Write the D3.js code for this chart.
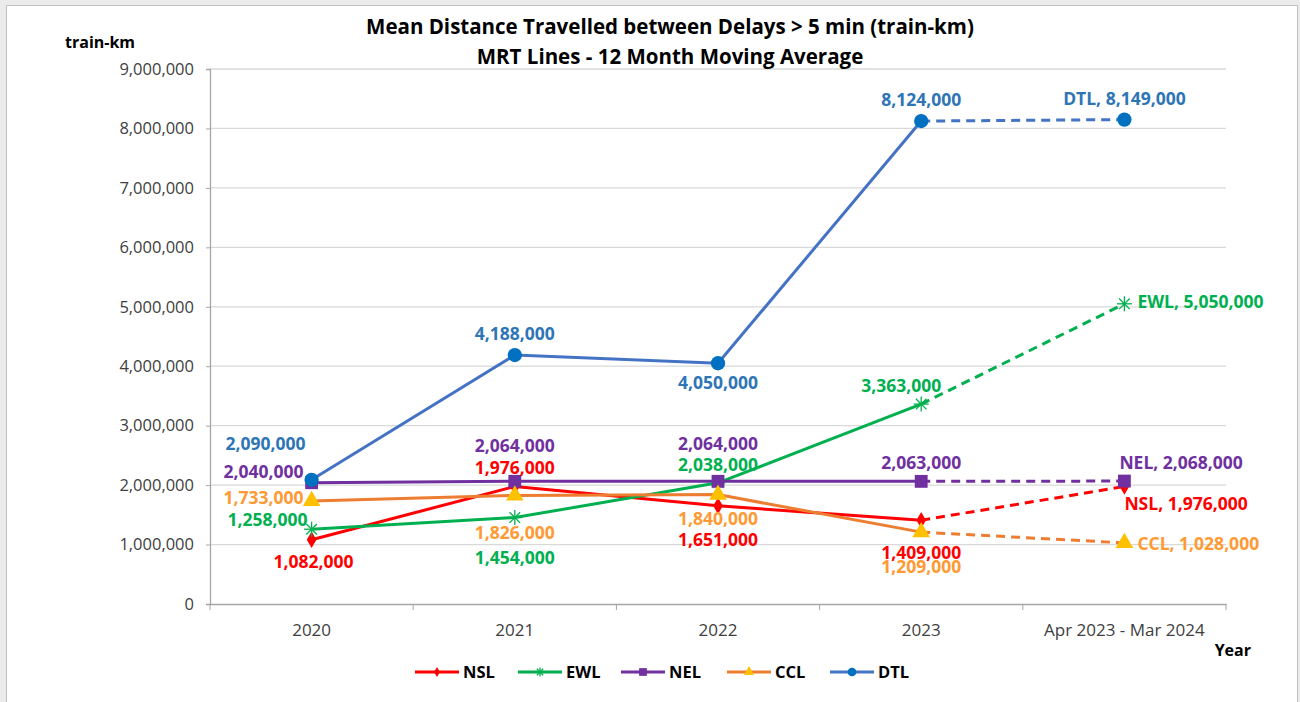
<!DOCTYPE html>
<html>
<head>
<meta charset="utf-8">
<script src="https://cdn.jsdelivr.net/npm/d3@7"></script>
<style>
  body { margin: 0; background: #ebebeb; }
  svg { display: block; font-family: "Open Sans", "Noto Sans", sans-serif; }
</style>
</head>
<body>
<div id="chart"></div>
<script>
// Chart data
const CATEGORIES = ["2020", "2021", "2022", "2023", "Apr 2023 - Mar 2024"];
const SERIES_NAMES = ["NSL", "EWL", "NEL", "CCL", "DTL"];
const NSL = [1082000, 1976000, 1651000, 1409000, 1976000];
const EWL = [1258000, 1454000, 2038000, 3363000, 5050000];
const NEL = [2040000, 2064000, 2064000, 2063000, 2068000];
const CCL = [1733000, 1826000, 1840000, 1209000, 1028000];
const DTL = [2090000, 4188000, 4050000, 8124000, 8149000];
const Y_TICKS = [0, 1000000, 2000000, 3000000, 4000000, 5000000, 6000000, 7000000, 8000000, 9000000];

// Frame
const FRAME_WIDTH = 1300;
const FRAME_HEIGHT = 702;
const MARGINS = {left: 210, right: 74, top: 69, bottom: 98};

const VIS_WIDTH = FRAME_WIDTH - MARGINS.left - MARGINS.right;
const VIS_HEIGHT = FRAME_HEIGHT - MARGINS.top - MARGINS.bottom;

// Styles per series
const STYLE = {
  NSL: {line: "#ff0000", marker: "#ff0000", label: "#ff0000", symbol: "diamond"},
  EWL: {line: "#00b050", marker: "#00b050", label: "#00b050", symbol: "star"},
  NEL: {line: "#7030a0", marker: "#7030a0", label: "#7030a0", symbol: "square"},
  CCL: {line: "#ed7d31", marker: "#ffc000", label: "#ff9933", symbol: "triangle"},
  DTL: {line: "#4472c4", marker: "#0070c0", label: "#2e75b6", symbol: "circle"}
};

// Label offsets [dx, dy, anchor] per point
const LABEL_POS = {
  NSL: [[2, 22, "middle"], [0, -19, "middle"], [0, 34, "middle"], [0, 33, "middle"], [0, 17, "start"]],
  EWL: [[-4, -9, "end"], [0, 40, "middle"], [0, -18, "middle"], [-20, -18, "middle"], [13, -2, "start"]],
  NEL: [[-8, -11, "end"], [0, -35, "middle"], [0, -37, "middle"], [0, -18, "middle"], [-5, -18, "start"]],
  CCL: [[-8, -3, "end"], [0, 37, "middle"], [0, 24, "middle"], [0, 35, "middle"], [13, 1, "start"]],
  DTL: [[-6, -36, "end"], [0, -21, "middle"], [0, 20, "middle"], [0, -21, "middle"], [0, -21, "middle"]]
};

const DATA = {NSL: NSL, EWL: EWL, NEL: NEL, CCL: CCL, DTL: DTL};

const svg = d3.select("#chart").append("svg")
    .attr("width", FRAME_WIDTH)
    .attr("height", FRAME_HEIGHT);

// chart border
svg.append("rect")
    .attr("x", 6.5).attr("y", 5.5)
    .attr("width", 1291).attr("height", 710)
    .attr("fill", "white")
    .attr("stroke", "#bfbfbf");

const xSCALE = d3.scaleBand()
    .domain(CATEGORIES)
    .range([0, VIS_WIDTH]);

const ySCALE = d3.scaleLinear()
    .domain([0, 9000000])
    .range([VIS_HEIGHT, 0]);

const g = svg.append("g")
    .attr("transform", "translate(" + MARGINS.left + "," + MARGINS.top + ")");

// gridlines
g.append("g")
    .selectAll("line")
    .data(Y_TICKS.slice(1))
    .enter()
    .append("line")
    .attr("x1", 0).attr("x2", VIS_WIDTH)
    .attr("y1", d => ySCALE(d)).attr("y2", d => ySCALE(d))
    .attr("stroke", "#d9d9d9")
    .attr("stroke-width", 1.3);

// y axis
const yAxis = g.append("g")
    .call(d3.axisLeft(ySCALE).tickValues(Y_TICKS).tickFormat(d3.format(",")).tickSize(4).tickPadding(12));
yAxis.select(".domain").attr("stroke", "#a6a6a6").attr("stroke-width", 1.3);
yAxis.selectAll(".tick line").attr("stroke", "#a6a6a6");
yAxis.selectAll("text").attr("font-size", "16.5px").attr("fill", "#404040")
    .attr("font-family", "Open Sans, sans-serif");

// x axis
const xAxis = g.append("g")
    .attr("transform", "translate(0," + VIS_HEIGHT + ")")
    .call(d3.axisBottom(xSCALE).tickSize(0).tickPadding(20));
xAxis.select(".domain").attr("stroke", "#a6a6a6").attr("stroke-width", 1.3);
xAxis.selectAll("text").attr("font-size", "17px").attr("fill", "#404040")
    .attr("font-family", "Open Sans, sans-serif");
// category boundary ticks
xAxis.selectAll(".bound")
    .data(d3.range(CATEGORIES.length + 1))
    .enter()
    .append("line")
    .attr("x1", i => i * xSCALE.step()).attr("x2", i => i * xSCALE.step())
    .attr("y1", 0).attr("y2", 6)
    .attr("stroke", "#a6a6a6");

const cx = c => xSCALE(c) + xSCALE.bandwidth() / 2;

// lines
SERIES_NAMES.forEach(name => {
  const vals = DATA[name];
  const pts = vals.map((v, i) => [cx(CATEGORIES[i]), ySCALE(v)]);
  const line = d3.line();
  g.append("path")
      .attr("d", line(pts.slice(0, 4)))
      .attr("fill", "none")
      .attr("stroke", STYLE[name].line)
      .attr("stroke-width", 3);
  g.append("path")
      .attr("d", line(pts.slice(3)))
      .attr("fill", "none")
      .attr("stroke", STYLE[name].line)
      .attr("stroke-width", 3)
      .attr("stroke-dasharray", "9,6");
});

// markers (size given as symbol area, star given as width)
function drawMarker(sel, name, size) {
  const st = STYLE[name];
  if (st.symbol === "star") {
    const r = size / 2;
    for (let k = 0; k < 4; k++) {
      const a = k * Math.PI / 4;
      sel.append("line")
          .attr("x1", -r * Math.cos(a)).attr("y1", -r * Math.sin(a))
          .attr("x2", r * Math.cos(a)).attr("y2", r * Math.sin(a))
          .attr("stroke", st.marker).attr("stroke-width", 1.3);
    }
    return;
  }
  const types = {diamond: d3.symbolDiamond, square: d3.symbolSquare, triangle: d3.symbolTriangle, circle: d3.symbolCircle};
  sel.append("path")
      .attr("d", d3.symbol().type(types[st.symbol]).size(size))
      .attr("fill", st.marker);
}

const MARKER_SIZE = {NSL: 80, EWL: 15, NEL: 165, CCL: 135, DTL: 160};
const LEGEND_MARKER = {NSL: 30, EWL: 9, NEL: 60, CCL: 45, DTL: 60};

SERIES_NAMES.forEach(name => {
  DATA[name].forEach((v, i) => {
    const m = g.append("g")
        .attr("transform", "translate(" + cx(CATEGORIES[i]) + "," + ySCALE(v) + ")");
    drawMarker(m, name, MARKER_SIZE[name]);
  });
});

// data labels
const fmt = d3.format(",");
SERIES_NAMES.forEach(name => {
  DATA[name].forEach((v, i) => {
    const p = LABEL_POS[name][i];
    const txt = (i === CATEGORIES.length - 1 ? name + ", " : "") + fmt(v);
    g.append("text")
        .attr("x", cx(CATEGORIES[i]) + p[0])
        .attr("y", ySCALE(v) + p[1])
        .attr("dy", "0.35em")
        .attr("text-anchor", p[2])
        .attr("font-size", "17.5px")
        .attr("font-weight", "bold")
        .attr("fill", STYLE[name].label)
        .text(txt);
  });
});

// titles
svg.append("text")
    .attr("x", 670).attr("y", 34)
    .attr("text-anchor", "middle")
    .attr("font-size", "20.5px").attr("font-weight", "bold").attr("fill", "#000")
    .text("Mean Distance Travelled between Delays > 5 min (train-km)");
svg.append("text")
    .attr("x", 670).attr("y", 64)
    .attr("text-anchor", "middle")
    .attr("font-size", "20.5px").attr("font-weight", "bold").attr("fill", "#000")
    .text("MRT Lines - 12 Month Moving Average");
svg.append("text")
    .attr("x", 65).attr("y", 48)
    .attr("font-size", "16px").attr("font-weight", "bold").attr("fill", "#000")
    .text("train-km");
svg.append("text")
    .attr("x", 1251).attr("y", 656)
    .attr("text-anchor", "end")
    .attr("font-size", "16px").attr("font-weight", "bold").attr("fill", "#000")
    .text("Year");

// legend
const LEG_X = [415, 518, 621, 727, 830];
const legend = svg.append("g").attr("transform", "translate(0,672)");
SERIES_NAMES.forEach((name, i) => {
  const lg = legend.append("g").attr("transform", "translate(" + LEG_X[i] + ",0)");
  lg.append("line")
      .attr("x1", 0).attr("x2", 44).attr("y1", 0).attr("y2", 0)
      .attr("stroke", STYLE[name].line).attr("stroke-width", 3);
  const m = lg.append("g").attr("transform", "translate(22,0)");
  drawMarker(m, name, LEGEND_MARKER[name]);
  lg.append("text")
      .attr("x", 48).attr("y", 0).attr("dy", "0.35em")
      .attr("font-size", "16.5px").attr("font-weight", "bold").attr("fill", "#000")
      .text(name);
});
</script>
</body>
</html>
